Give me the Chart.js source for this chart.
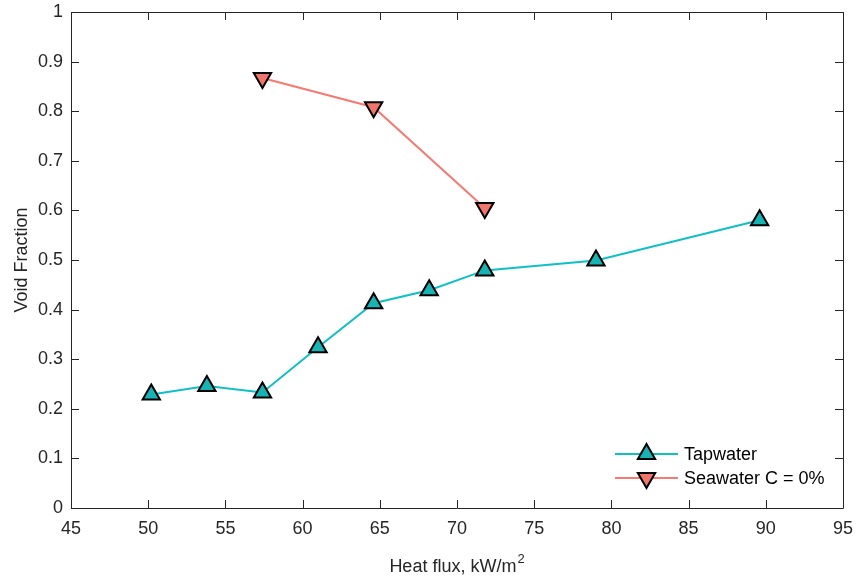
<!DOCTYPE html>
<html>
<head>
<meta charset="utf-8">
<script src="https://cdn.jsdelivr.net/npm/chart.js@4/dist/chart.umd.min.js"></script>
<style>
  html, body { margin: 0; padding: 0; background: #ffffff; }
  #wrap { width: 858px; height: 582px; position: relative; }
</style>
</head>
<body>
<div id="wrap"><canvas id="c" width="858" height="582"></canvas></div>
<script>
// ---- Data ----
const tapHeatFlux = [50.2, 53.8, 57.4, 61.0, 64.6, 68.2, 71.8, 79.0, 89.6];
const tapVoid     = [0.229, 0.246, 0.233, 0.324, 0.413, 0.439, 0.479, 0.499, 0.580];
const seaHeatFlux = [57.4, 64.6, 71.8];
const seaVoid     = [0.867, 0.808, 0.605];
const seriesNames = ['Tapwater', 'Seawater C = 0%'];
const xTicks = [45, 50, 55, 60, 65, 70, 75, 80, 85, 90, 95];
const yTicks = [0, 0.1, 0.2, 0.3, 0.4, 0.5, 0.6, 0.7, 0.8, 0.9, 1];
const xTitleMain = 'Heat flux, kW/m';
const xTitleSup = '2';

const FONT = 'Liberation Sans, Arial, Helvetica, sans-serif';
const AXIS = '#262626';

function pts(xs, ys) { return xs.map((x, i) => ({ x: x, y: ys[i] })); }

const boxTicksLegend = {
  id: 'boxTicksLegend',
  afterDraw(chart) {
    const ctx = chart.ctx;
    const a = chart.chartArea;
    const xs = chart.scales.x, ys = chart.scales.y;
    const TL = 8;
    ctx.save();
    ctx.strokeStyle = AXIS;
    ctx.lineWidth = 1;
    // box
    ctx.beginPath();
    ctx.rect(Math.round(a.left) + 0.5, Math.round(a.top) + 0.5,
             Math.round(a.right - a.left), Math.round(a.bottom - a.top));
    ctx.stroke();
    // ticks
    ctx.beginPath();
    xTicks.forEach(v => {
      const p = Math.round(xs.getPixelForValue(v)) + 0.5;
      ctx.moveTo(p, a.bottom); ctx.lineTo(p, a.bottom - TL);
      ctx.moveTo(p, a.top); ctx.lineTo(p, a.top + TL);
    });
    yTicks.forEach(v => {
      const p = Math.round(ys.getPixelForValue(v)) + 0.5;
      ctx.moveTo(a.left, p); ctx.lineTo(a.left + TL, p);
      ctx.moveTo(a.right, p); ctx.lineTo(a.right - TL, p);
    });
    ctx.stroke();
    // x-axis title with superscript
    ctx.fillStyle = AXIS;
    ctx.textBaseline = 'alphabetic';
    ctx.textAlign = 'left';
    ctx.font = '18px ' + FONT;
    const wMain = ctx.measureText(xTitleMain).width;
    ctx.font = '13px ' + FONT;
    const wSup = ctx.measureText(xTitleSup).width;
    const cx = (a.left + a.right) / 2;
    const x0 = cx - (wMain + wSup + 1) / 2;
    const base = 572;
    ctx.font = '18px ' + FONT;
    ctx.fillText(xTitleMain, x0, base);
    ctx.font = '13px ' + FONT;
    ctx.fillText(xTitleSup, x0 + wMain + 1, base - 9);
    // legend (inside the axes, lower right)
    const lx0 = a.right - 228, lx1 = a.right - 165, tx = a.right - 159;
    const rowY = [a.bottom - 54, a.bottom - 30];
    chart.data.datasets.forEach((ds, i) => {
      const y = rowY[i];
      ctx.strokeStyle = ds.borderColor;
      ctx.lineWidth = ds.borderWidth;
      ctx.beginPath();
      ctx.moveTo(lx0, y); ctx.lineTo(lx1, y);
      ctx.stroke();
      ctx.fillStyle = ds.pointBackgroundColor;
      ctx.strokeStyle = ds.pointBorderColor;
      ctx.lineWidth = ds.pointBorderWidth;
      Chart.helpers.drawPoint(ctx, {
        pointStyle: 'triangle', radius: ds.pointRadius, rotation: ds.pointRotation, borderWidth: ds.pointBorderWidth
      }, (lx0 + lx1) / 2, y);
      ctx.fillStyle = '#000000';
      ctx.font = '18px ' + FONT;
      ctx.textBaseline = 'middle';
      ctx.textAlign = 'left';
      ctx.fillText(ds.label, tx, y + 1);
    });
    ctx.restore();
  }
};

new Chart(document.getElementById('c'), {
  type: 'scatter',
  data: {
    datasets: [
      {
        label: seriesNames[0],
        data: pts(tapHeatFlux, tapVoid),
        showLine: true,
        borderColor: '#0fc0c4',
        borderWidth: 2,
        pointStyle: 'triangle',
        pointRadius: 10,
        pointRotation: 0,
        pointBackgroundColor: '#15b5b5',
        pointBorderColor: '#000000',
        pointBorderWidth: 2,
        pointHoverRadius: 10
      },
      {
        label: seriesNames[1],
        data: pts(seaHeatFlux, seaVoid),
        showLine: true,
        borderColor: '#f77a70',
        borderWidth: 2,
        pointStyle: 'triangle',
        pointRadius: 10,
        pointRotation: 180,
        pointBackgroundColor: '#f2756a',
        pointBorderColor: '#000000',
        pointBorderWidth: 2,
        pointHoverRadius: 10
      }
    ]
  },
  options: {
    responsive: false,
    animation: false,
    devicePixelRatio: 1,
    layout: { padding: { top: 11, right: 15, left: 0, bottom: 0 } },
    plugins: {
      legend: { display: false },
      tooltip: { enabled: false }
    },
    scales: {
      x: {
        type: 'linear',
        min: 45, max: 95,
        afterBuildTicks(s) { s.ticks = xTicks.map(v => ({ value: v })); },
        afterFit(s) { s.height = 74; s.paddingLeft = 0; s.paddingRight = 0; },
        grid: { display: false, drawTicks: false },
        border: { display: false },
        ticks: {
          color: AXIS, padding: 10, maxRotation: 0,
          font: { family: FONT, size: 18 },
          callback: v => String(v)
        },
        title: { display: false }
      },
      y: {
        type: 'linear',
        min: 0, max: 1,
        afterBuildTicks(s) { s.ticks = yTicks.map(v => ({ value: v })); },
        afterFit(s) { s.width = 71; s.paddingTop = 0; s.paddingBottom = 0; },
        grid: { display: false, drawTicks: false },
        border: { display: false },
        ticks: {
          color: AXIS, padding: 8,
          font: { family: FONT, size: 18 },
          callback: v => String(Math.round(v * 10) / 10)
        },
        title: {
          display: true, text: 'Void Fraction', color: AXIS,
          font: { family: FONT, size: 18 },
          padding: { top: 11, bottom: 0 }
        }
      }
    }
  },
  plugins: [boxTicksLegend]
});
</script>
</body>
</html>
